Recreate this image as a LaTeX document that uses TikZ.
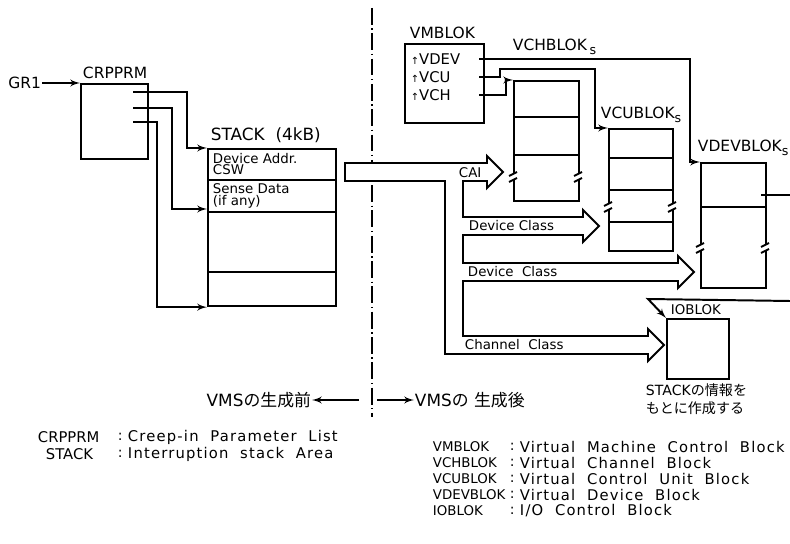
\documentclass[tikz,border=0pt]{standalone}
\usepackage{fontspec}
\setmainfont{DejaVu Sans}
\newfontfamily\wide{DejaVu Sans}[LetterSpace=8, WordSpace=2]
\newfontfamily\jp{Noto Sans CJK JP}
\usepackage{tikz}
\usetikzlibrary{arrows,positioning,calc}
\tikzstyle{box} = [draw, rectangle, anchor=north west, inner sep=0pt, line width=1.5pt]
\tikzstyle{lbl} = [inner sep=0pt, font=\fontsize{11}{11}\selectfont]
\tikzstyle{field} = [inner sep=0pt, anchor=west, font=\fontsize{10.5}{10.5}\selectfont]
\tikzstyle{cell} = [inner sep=0pt, anchor=west, align=left, font=\fontsize{9.5}{8.5}\selectfont]
\tikzstyle{tag} = [inner sep=0pt, anchor=west, font=\fontsize{9.5}{9.5}\selectfont]
\tikzstyle{lgd} = [inner sep=0pt, anchor=west, font=\fontsize{10}{10}\selectfont]
\tikzstyle{pipe} = [draw, fill=white, line width=1.4pt, line join=miter]
\tikzstyle{divider} = [line width=1.3pt, dash pattern=on 12pt off 2.5pt on 1pt off 2.5pt]

% gap with two ticks in a box side
\newcommand{\cutmark}[2]{%
  \fill[white] (#1-4,#2-3.5) rectangle (#1+4,#2+3.5);
  \draw (#1-4,#2-1) -- (#1+4,#2-5);
  \draw (#1-4,#2+5) -- (#1+4,#2+1);}

\begin{document}
\begin{tikzpicture}[x=0.025cm, y=-0.025cm, >=latex', line width=1.4pt]
  \useasboundingbox (0,0) rectangle (790,544);

  % before VMS generation
  \node [box, minimum width=1.675cm, minimum height=1.875cm] (crpprm) at (80,83) {};
  \node [lbl, anchor=south west] (crpprmlbl) at (82,80) {CRPPRM};
  \node [lbl, anchor=east] (gr1) at (42,83) {GR1};
  \draw [->] (gr1) -- (crpprm.north west);

  \node [box, minimum width=3.2cm, minimum height=3.925cm] (stack) at (207,148) {};
  \node [lbl, anchor=south west, font=\fontsize{12}{12}\selectfont] (stacklbl) at (210,144) {STACK\ \ (4kB)};
  \foreach \y in {180,212,272}
    \draw (stack.west |- 0,\y) -- (stack.east |- 0,\y);
  \node [cell] at (212,164) {Device Addr.\\CSW};
  \node [cell] at (212,196) {Sense Data\\(if any)};

  \coordinate (p1) at (133,92);
  \coordinate (p2) at (133,108);
  \coordinate (p3) at (133,122);
  \draw [->] (p1) -- (187,92) |- (stack.north west);
  \draw [->] (p2) -- (172,108) |- (stack.west |- 0,209);
  \draw [->] (p3) -- (157,122) |- (stack.south west);

  \draw [divider] (372,8) -- (372,417);

  % data handed over
  \draw [pipe] (345,163) -- (345,181) -- (445,181) -- (445,354) -- (648,354)
    -- (648,361) -- (664,345) -- (648,329) -- (648,336) -- (463,336) -- (463,281)
    -- (678,281) -- (678,288) -- (694,272) -- (678,256) -- (678,263) -- (463,263)
    -- (463,235) -- (583,235) -- (583,242) -- (599,226) -- (583,210) -- (583,217)
    -- (463,217) -- (463,181) -- (487,181) -- (487,188) -- (503,172) -- (487,156)
    -- (487,163) -- cycle;
  \node [tag] at (458,173) {CAI};
  \node [tag] at (468,226) {Device Class};
  \node [tag] at (467,272) {Device\ \ Class};
  \node [tag] at (464,345) {Channel\ \ Class};

  % after VMS generation
  \node [box, minimum width=1.975cm, minimum height=1.975cm] (vmblok) at (404,43) {};
  \node [lbl, anchor=south west] (vmbloklbl) at (409,40) {VMBLOK};
  \node [field] at (410,59) {{\fontsize{7}{7}\selectfont↑}VDEV};
  \node [field] at (410,77) {{\fontsize{7}{7}\selectfont↑}VCU};
  \node [field] at (410,95) {{\fontsize{7}{7}\selectfont↑}VCH};

  \node [box, minimum width=1.625cm, minimum height=3cm] (vchblok) at (513,80) {};
  \node [lbl, anchor=south west] (vchbloklbl) at (512,56) {VCHBLOK\,\raisebox{-3pt}{\fontsize{9}{9}\selectfont s}};
  \foreach \y in {117,155}
    \draw (vchblok.west |- 0,\y) -- (vchblok.east |- 0,\y);
  \cutmark{513}{177}
  \cutmark{578}{177}

  \node [box, minimum width=1.6cm, minimum height=3.05cm] (vcublok) at (608,128) {};
  \node [lbl, anchor=south west] (vcubloklbl) at (600,124) {VCUBLOK\raisebox{-3pt}{\fontsize{9}{9}\selectfont s}};
  \foreach \y in {158,190,222}
    \draw (vcublok.west |- 0,\y) -- (vcublok.east |- 0,\y);
  \cutmark{608}{207}
  \cutmark{672}{207}

  \node [box, minimum width=1.625cm, minimum height=3.125cm] (vdevblok) at (700,162) {};
  \node [lbl, anchor=south west] (vdevbloklbl) at (697,157) {VDEVBLOK\raisebox{-3pt}{\fontsize{9}{9}\selectfont s}};
  \draw (vdevblok.west |- 0,207) -- (vdevblok.east |- 0,207);
  \cutmark{700}{248}
  \cutmark{765}{248}

  \node [box, minimum width=1.55cm, minimum height=1.5cm] (ioblok) at (666,318) {};
  \node [tag] (iobloklbl) at (670,310) {IOBLOK};
  \node [lbl, anchor=north west, align=left, font=\fontsize{10}{12.5}\selectfont] (note) at (645,383)
    {STACK{\jp の情報を}\\{\jp もとに作成する}};

  \coordinate (vdev) at (479,59);
  \coordinate (vcu) at (479,77);
  \coordinate (vch) at (479,95);
  \draw [->] (vdev) -- (690,59) |- (vdevblok.north west);
  \draw [->] (vcu) -- (500,77) -- (500,69) -- (595,69) |- (vcublok.north west);
  \draw [->] (vch) -- (506,95) |- (vchblok.north west);

  \coordinate (devptr) at (761,195);
  \coordinate (devout) at (790,195);
  \draw (devptr) -- (devout);
  \coordinate (ioin) at (790,301);
  \coordinate (iokink) at (648,299);
  \draw [->] (ioin) -- (iokink) -- (ioblok.north west);

  % before / after
  \node [lbl, anchor=east, font=\fontsize{12}{12}\selectfont] (before) at (312,400) {VMS{\jp の生成前}};
  \node [lbl, anchor=west, font=\fontsize{12}{12}\selectfont] (after) at (414,400) {VMS{\jp の}\ {\jp 生成後}};
  \coordinate (lsplit) at (359,400);
  \coordinate (rsplit) at (377,400);
  \draw [->] (lsplit) -- (before);
  \draw [->] (rsplit) -- (after);

  % legends
  \node [lgd, font=\fontsize{10.5}{10.5}\selectfont] at (37,437) {CRPPRM};
  \node [lgd] at (117,437) {:};
  \node [lgd, font=\fontsize{10.5}{10.5}\selectfont] at (127,437) {\wide Creep-in Parameter List};
  \node [lgd, font=\fontsize{10.5}{10.5}\selectfont] at (45,454) {STACK};
  \node [lgd] at (117,454) {:};
  \node [lgd, font=\fontsize{10.5}{10.5}\selectfont] at (127,454) {\wide Interruption stack Area};
  \foreach \n/\d [count=\i] in {VMBLOK/Virtual Machine Control Block,
      VCHBLOK/Virtual Channel Block, VCUBLOK/Virtual Control Unit Block,
      VDEVBLOK/Virtual Device Block, IOBLOK/{I/O Control Block}} {
    \node [lgd, font=\fontsize{9.5}{9.5}\selectfont] at (432,431+16*\i) {\n};
    \node [lgd] at (509,431+16*\i) {:};
    \node [lgd, font=\fontsize{10.5}{10.5}\selectfont] at (519,431+16*\i) {\wide \d};
  }
\end{tikzpicture}
\end{document}
